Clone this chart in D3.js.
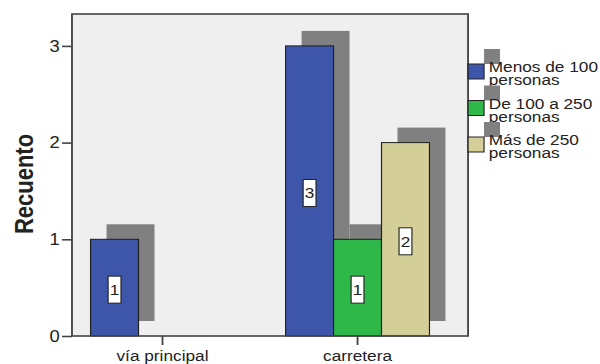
<!DOCTYPE html>
<html>
<head>
<meta charset="utf-8">
<script src="https://cdn.jsdelivr.net/npm/d3@7/dist/d3.min.js"></script>
<style>
  html, body { margin: 0; padding: 0; background: #fff; }
  svg { display: block; }
  text { font-family: "Liberation Sans", Arial, sans-serif; fill: #222; }
</style>
</head>
<body>
<div id="chart"></div>
<script>
// Recuento por tipo de vía y tamaño de la población
const categories = ["vía principal", "carretera"];
const seriesNames = ["Menos de 100 personas", "De 100 a 250 personas", "Más de 250 personas"];
const menosDe100 = [1, 3];
const de100a250 = [0, 1];
const masDe250 = [0, 2];
const yTicks = [0, 1, 2, 3];
const seriesColors = ["#3d56a9", "#2eb84a", "#d4cf98"];

const seriesValues = [menosDe100, de100a250, masDe250];

// The drawing is laid out in a narrower coordinate space and stretched
// horizontally to the 600px window.
const W = 600, H = 364, SX = 1.15;
const VW = W / SX;

const svg = d3.select("#chart").append("svg")
  .attr("width", W).attr("height", H)
  .attr("viewBox", `0 0 ${VW} ${H}`)
  .attr("preserveAspectRatio", "none");

const plot = { left: 62.6, right: 407, top: 14, bottom: 336 };

const y = d3.scaleLinear().domain([0, 3.33]).range([plot.bottom, plot.top]);
const x0 = d3.scaleBand().domain(categories).range([56.5, 395.7]).padding(0);
const barW = 41.7;
const x1 = d3.scaleBand().domain(seriesNames)
  .range([-barW * 1.5, barW * 1.5]).padding(0);

const shadowDX = 13.9, shadowDY = -15;

// plot background
svg.append("rect")
  .attr("x", plot.left).attr("y", plot.top)
  .attr("width", plot.right - plot.left).attr("height", plot.bottom - plot.top)
  .attr("fill", "#efefef");

// flatten to bar records
const bars = [];
seriesNames.forEach((s, si) => {
  categories.forEach((c, ci) => {
    const v = seriesValues[si][ci];
    if (v > 0) bars.push({ series: s, cat: c, value: v, color: seriesColors[si] });
  });
});

const barX = d => x0(d.cat) + x0.bandwidth() / 2 + x1(d.series);

// drop shadows
svg.append("g").selectAll("rect").data(bars).join("rect")
  .attr("x", d => barX(d) + shadowDX)
  .attr("y", d => y(d.value) + shadowDY)
  .attr("width", x1.bandwidth())
  .attr("height", d => y(0) - y(d.value))
  .attr("fill", "#808080");

// bars
svg.append("g").selectAll("rect").data(bars).join("rect")
  .attr("x", d => barX(d))
  .attr("y", d => y(d.value))
  .attr("width", x1.bandwidth())
  .attr("height", d => y(0) - y(d.value))
  .attr("fill", d => d.color)
  .attr("stroke", "#1e1e1e")
  .attr("stroke-width", 1);

// value labels in white boxes
const lab = svg.append("g").selectAll("g").data(bars).join("g")
  .attr("transform", d => `translate(${barX(d) + x1.bandwidth() / 2},${(y(d.value) + y(0)) / 2 + 2})`);
lab.append("rect")
  .attr("x", -5.6).attr("y", -13.5).attr("width", 11.2).attr("height", 27)
  .attr("fill", "#fff").attr("stroke", "#222").attr("stroke-width", 1);
lab.append("text")
  .attr("text-anchor", "middle").attr("dy", "0.36em")
  .attr("font-size", 15)
  .text(d => d.value);

// frame
svg.append("rect")
  .attr("x", plot.left).attr("y", plot.top)
  .attr("width", plot.right - plot.left).attr("height", plot.bottom - plot.top)
  .attr("fill", "none").attr("stroke", "#444").attr("stroke-width", 1.6);

// y axis
const yAxis = d3.axisLeft(y).tickValues(yTicks).tickFormat(d3.format("d"))
  .tickSize(8.7).tickPadding(2);
const gy = svg.append("g").attr("transform", `translate(${plot.left},0)`).call(yAxis);
gy.select(".domain").remove();
gy.selectAll(".tick line").attr("stroke", "#444").attr("stroke-width", 1.6);
gy.selectAll(".tick text").attr("font-size", 16).attr("fill", "#222")
  .style("font-family", "'Liberation Sans', Arial, sans-serif");

// x axis
const xAxis = d3.axisBottom(x0).tickSize(9).tickPadding(4);
const gx = svg.append("g").attr("transform", `translate(0,${plot.bottom})`).call(xAxis);
gx.select(".domain").remove();
gx.selectAll(".tick line").attr("stroke", "#444").attr("stroke-width", 1.6);
gx.selectAll(".tick text").attr("font-size", 15).attr("fill", "#222")
  .attr("dy", null).attr("y", 25)
  .style("font-family", "'Liberation Sans', Arial, sans-serif");

// y axis title
svg.append("text")
  .attr("transform", `translate(28.7,${(plot.top + plot.bottom) / 2 + 9}) rotate(-90)`)
  .attr("text-anchor", "middle")
  .attr("font-size", 22).attr("font-weight", "bold")
  .text("Recuento");

// legend: two-line labels, tightly stacked
const legend = svg.append("g").selectAll("g").data(seriesNames).join("g")
  .attr("transform", (d, i) => `translate(407,${64 + i * 36.5})`);
legend.append("rect")
  .attr("x", shadowDX).attr("y", shadowDY).attr("width", 13.9).attr("height", 15)
  .attr("fill", "#808080");
legend.append("rect")
  .attr("x", 0).attr("y", 0).attr("width", 13.9).attr("height", 15)
  .attr("fill", (d, i) => seriesColors[i])
  .attr("stroke", "#222").attr("stroke-width", 1);
legend.append("text")
  .attr("x", 18).attr("y", 8)
  .attr("font-size", 15)
  .selectAll("tspan")
  .data(d => { const k = d.lastIndexOf(" "); return [d.slice(0, k), d.slice(k + 1)]; })
  .join("tspan")
  .attr("x", 18)
  .attr("dy", (d, i) => i === 0 ? 0 : 13.5)
  .text(d => d);
</script>
</body>
</html>
